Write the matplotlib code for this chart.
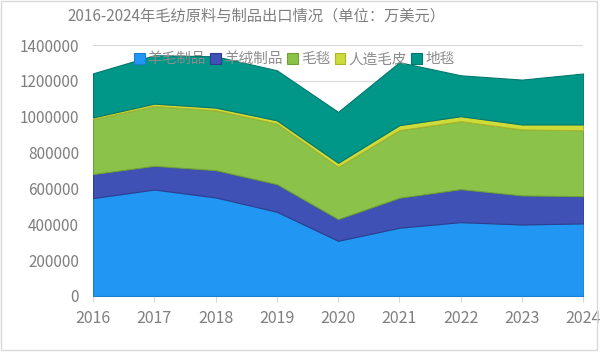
import matplotlib
matplotlib.use("Agg")
import matplotlib.pyplot as plt
from matplotlib.patches import Rectangle
from matplotlib.ticker import FuncFormatter

plt.rcParams['font.family'] = ['Noto Sans CJK SC', 'DejaVu Sans']

# datos (unidad: 万美元)
anios = [2016, 2017, 2018, 2019, 2020, 2021, 2022, 2023, 2024]
series = ['羊毛制品', '羊绒制品', '毛毯', '人造毛皮', '地毯']
lana = [546000, 594000, 550000, 470000, 308000, 381000, 412000, 399000, 405000]
cachemira = [134000, 132000, 152000, 154000, 121000, 167000, 184000, 162000, 152000]
mantas = [306000, 334000, 334000, 338000, 291000, 377000, 379000, 368000, 368000]
piel = [10000, 13000, 15000, 18000, 23000, 28000, 28000, 28000, 32000]
alfombras = [246000, 270000, 286000, 279000, 284000, 351000, 228000, 250000, 284000]

colores = ['#2196F3', '#3F51B5', '#8BC34A', '#CDDC39', '#009688']
bordes = ['#1a7fd0', '#2e3d8f', '#6f9e3a', '#a9b52c', '#00786d']

fig = plt.figure(figsize=(6, 3.53), dpi=100)
ax = fig.add_axes([0.155, 0.1615, 0.817, 0.711])

polys = ax.stackplot(anios, lana, cachemira, mantas, piel, alfombras,
                     labels=series, colors=colores, zorder=3)
for p, b in zip(polys, bordes):
    p.set_edgecolor(b)
    p.set_linewidth(0.8)

# ejes
ax.set_xlim(2016, 2024)
ax.set_ylim(0, 1400000)
ax.set_yticks(range(0, 1400001, 200000))
ax.yaxis.set_major_formatter(FuncFormatter(lambda v, pos: '%d' % v))
ax.set_xticks(anios)
ax.yaxis.grid(True, color='#d9d9d9', linewidth=0.8, zorder=0)
for s in ['top', 'right', 'left']:
    ax.spines[s].set_visible(False)
ax.spines['bottom'].set_color('#d9d9d9')
ax.tick_params(axis='y', length=0, colors='#7f7f7f', labelsize=11, pad=10)
ax.tick_params(axis='x', length=4, color='#d9d9d9', colors='#7f7f7f', labelsize=11.5, pad=6)

# leyenda
ax.legend(loc='upper center', bbox_to_anchor=(0.41, 1.025), ncol=5, frameon=False,
          fontsize=10.5, labelcolor='#8c8c8c', handlelength=0.75, handleheight=0.75,
          handletextpad=0.2, columnspacing=0.3)

# titulo
fig.text(0.428, 0.955, '2016-2024年毛纺原料与制品出口情况（单位：万美元）',
         ha='center', va='center', fontsize=11, color='#7f7f7f')

# marco
fig.patches.append(Rectangle((0.002, 0.008), 0.993, 0.99, transform=fig.transFigure,
                             fill=False, edgecolor='#d9d9d9', linewidth=1))

plt.savefig('out.png', dpi=100)
